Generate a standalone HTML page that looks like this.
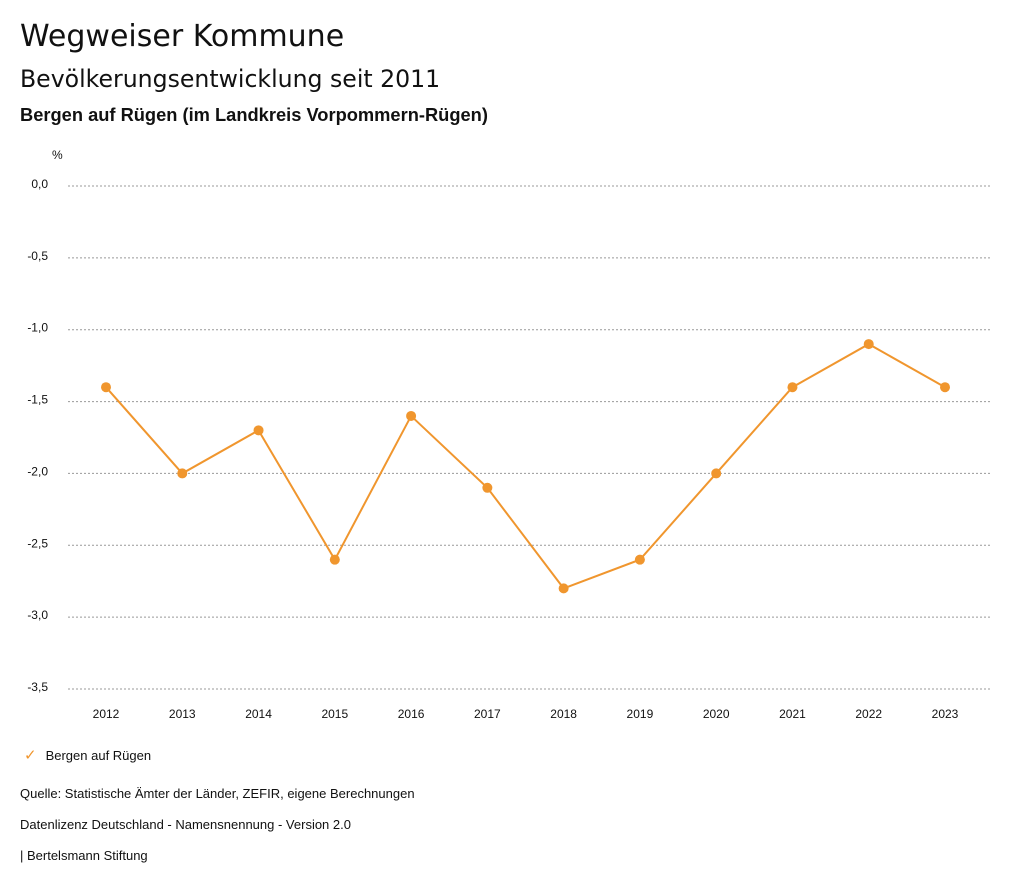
<!DOCTYPE html>
<html><head><meta charset="utf-8"><style>
body{margin:0;width:1024px;height:888px;background:#fff;font-family:"Liberation Sans",sans-serif;color:#111;position:relative;overflow:hidden}
.t{position:absolute;left:20px;white-space:nowrap}
</style></head><body>
<div class="t" style="top:19px;font-size:30px;font-family:'DejaVu Sans',sans-serif">Wegweiser Kommune</div>
<div class="t" style="top:65px;font-size:23.6px;font-family:'DejaVu Sans',sans-serif">Bevölkerungsentwicklung seit 2011</div>
<div class="t" style="top:104px;font-size:18.3px;font-weight:bold">Bergen auf Rügen (im Landkreis Vorpommern-Rügen)</div>
<svg id="c" width="1024" height="888" style="position:absolute;left:0;top:0"></svg>
<div class="t" style="top:746px;left:24px;font-size:13px"><span style="color:#f0962e;font-size:15px">✓</span><span style="margin-left:9px">Bergen auf Rügen</span></div>
<div class="t" style="top:786px;font-size:13px">Quelle: Statistische Ämter der Länder, ZEFIR, eigene Berechnungen</div>
<div class="t" style="top:817px;font-size:13px">Datenlizenz Deutschland - Namensnennung - Version 2.0</div>
<div class="t" style="top:848px;font-size:13px">| Bertelsmann Stiftung</div>
<script>
const years=[2012,2013,2014,2015,2016,2017,2018,2019,2020,2021,2022,2023];
const values=[-1.4,-2.0,-1.7,-2.6,-1.6,-2.1,-2.8,-2.6,-2.0,-1.4,-1.1,-1.4];
const yTicks=[0,-0.5,-1,-1.5,-2,-2.5,-3,-3.5];
const yTickLabels=["0,0","-0,5","-1,0","-1,5","-2,0","-2,5","-3,0","-3,5"];
const svg=document.getElementById('c');const NS='http://www.w3.org/2000/svg';
const x=i=>106+i*(945-106)/(years.length-1);
const y=v=>186+(-v)*(689-186)/3.5;
function mk(t,a){const e=document.createElementNS(NS,t);for(const k in a)e.setAttribute(k,a[k]);svg.appendChild(e);return e;}
let u=mk('text',{x:52,y:159,'font-size':12,fill:'#111'});u.textContent='%';


yTicks.forEach((v,i)=>{
 const l=mk('line',{x1:68,x2:990,y1:y(v),y2:y(v),stroke:'#999','stroke-dasharray':'2,2','stroke-width':1});
 
 
 const t=mk('text',{x:48,y:y(v)+2,'font-size':12,'text-anchor':'end',fill:'#111'});t.textContent=yTickLabels[i];
 
 
});
years.forEach((yr,i)=>{
 const t=mk('text',{x:x(i),y:718,'font-size':12,'text-anchor':'middle',fill:'#111'});t.textContent=yr;
 
 
});
const p=mk('polyline',{points:values.map((v,i)=>x(i)+','+y(v)).join(' '),fill:'none',stroke:'#f0962e','stroke-width':2});


values.forEach((v,i)=>{
 const c=mk('circle',{cx:x(i),cy:y(v),r:5,fill:'#f0962e'});
 
 
});
</script>
</body></html>
